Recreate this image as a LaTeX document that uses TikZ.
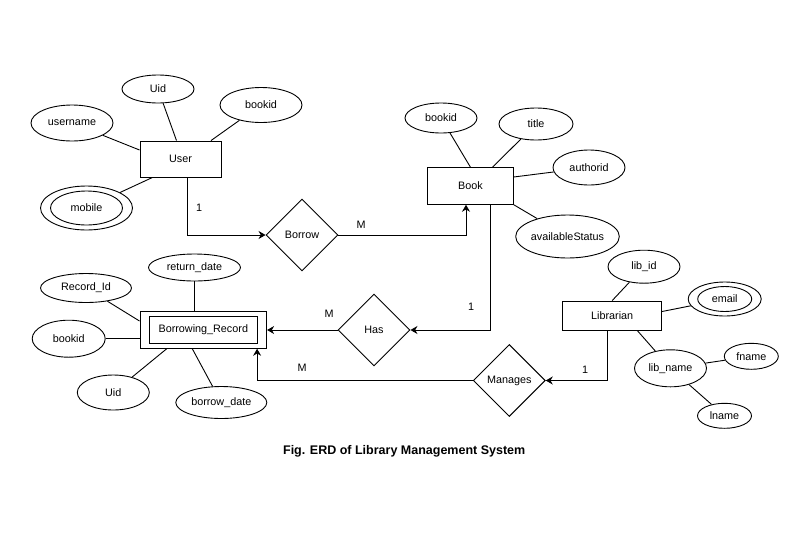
\documentclass[tikz,border=0pt]{standalone}
\usepackage{fontspec}
\setmainfont{Liberation Sans}
\usetikzlibrary{shapes.geometric,arrows.meta}
\begin{document}
\begin{tikzpicture}[x=1pt,y=-1pt,
  font=\fontsize{10.8}{13}\selectfont,
  line width=0.9pt,
  attr/.style={ellipse,draw,inner sep=0pt},
  ent/.style={rectangle,draw,inner sep=0pt},
  rel/.style={diamond,draw,inner sep=0pt,minimum width=72pt,minimum height=72pt},
  arr/.style={-{Stealth[length=7pt,width=8pt]}},
  card/.style={inner sep=0pt}]
\fill[white] (0,0) rectangle (810,544);
\useasboundingbox (0,0) rectangle (810,544);

% ---------- User ----------
\node[ent,minimum width=81pt,minimum height=36pt] (User) at (180.5,159) {User};
\node[attr,minimum width=72pt,minimum height=28pt] (uidA) at (158,89) {Uid};
\node[attr,minimum width=82pt,minimum height=35pt] (bookidA) at (261,105) {bookid};
\node[attr,minimum width=82pt,minimum height=36pt] (uname) at (72,123) {username};
\node[attr,minimum width=92pt,minimum height=44pt] (mobileO) at (86.5,208) {};
\node[attr,minimum width=72pt,minimum height=34pt] (mobile) at (86.5,208) {mobile};

\draw (uname) -- ([yshift=9pt]User.west);
\draw (uidA) -- ([xshift=-4pt]User.north);
\draw (bookidA) -- ([xshift=30.5pt]User.north);
\draw (mobileO) -- ([xshift=-28pt]User.south);

% ---------- Borrow ----------
\node[rel] (Borrow) at (302,235) {Borrow};

% ---------- Book ----------
\node[ent,minimum width=85.6pt,minimum height=36.6pt] (Book) at (470.5,186) {Book};
\node[attr,minimum width=72pt,minimum height=30pt] (bookidB) at (441,118) {bookid};
\node[attr,minimum width=74pt,minimum height=32pt] (title) at (536,124) {title};
\node[attr,minimum width=72pt,minimum height=35pt] (author) at (589,167.5) {authorid};
\node[attr,minimum width=99pt,minimum height=43pt] (avail) at (567.5,236.5) {availableStatus};

\draw (bookidB) -- (Book.north);
\draw (title) -- ([xshift=22pt]Book.north);
\draw (author) -- ([yshift=9pt]Book.east);
\draw (avail) -- (Book.south east);

% ---------- Has ----------
\node[rel] (Has) at (374,330) {Has};

% ---------- Borrowing_Record ----------
\node[ent,minimum width=126.7pt,minimum height=36.6pt] (BR) at (203.3,330) {};
\node[ent,minimum width=108.7pt,minimum height=26.6pt] (BRin) at (203.3,330) {Borrowing\_Record};
\node[attr,minimum width=91pt,minimum height=29pt] (rec) at (86,288) {Record\_Id};
\node[attr,minimum width=92pt,minimum height=27pt] (ret) at (194.5,267.5) {return\_date};
\node[attr,minimum width=73pt,minimum height=37pt] (bookidC) at (68.7,338.7) {bookid};
\node[attr,minimum width=72pt,minimum height=35pt] (uidB) at (113.3,392.5) {Uid};
\node[attr,minimum width=91pt,minimum height=32pt] (bdate) at (221.3,402.5) {borrow\_date};

\draw (rec) -- ([yshift=9pt]BR.west);
\draw (ret) -- (ret |- BR.north);
\draw (bookidC) -- (bookidC -| BR.west);
\draw (uidB) -- ([xshift=-36.6pt]BR.south);
\draw (bdate) -- ([xshift=-11pt]BR.south);

% ---------- Librarian ----------
\node[ent,minimum width=99pt,minimum height=29pt] (Lib) at (612.2,315.5) {Librarian};
\node[attr,minimum width=72pt,minimum height=33pt] (libid) at (644,266.7) {lib\_id};
\node[attr,minimum width=73pt,minimum height=34pt] (emailO) at (724.7,299) {};
\node[attr,minimum width=54pt,minimum height=25pt] (email) at (724.7,299) {email};
\node[attr,minimum width=72pt,minimum height=37pt] (libname) at (670.5,368.3) {lib\_name};
\node[attr,minimum width=54pt,minimum height=26pt] (fname) at (751.3,356.3) {fname};
\node[attr,minimum width=54pt,minimum height=25pt] (lname) at (724.5,415.8) {lname};

\draw (libid) -- (Lib.north);
\draw (emailO) -- ([yshift=4pt]Lib.east);
\draw (libname) -- ([xshift=25pt]Lib.south);
\draw (libname) -- (fname);
\draw (libname) -- (lname);

% ---------- Manages ----------
\node[rel] (Man) at (509.3,380.5) {Manages};

% ---------- Relationship connectors ----------
\draw[arr] ([xshift=7pt]User.south) |- (Borrow.west);
\draw[arr] (Borrow.east) -| ([xshift=-4.5pt]Book.south);
\draw[arr] ([xshift=20pt]Book.south) |- (Has.east);
\draw[arr] (Has.west) -- (BR.east);
\draw[arr] (Man.west) -| ([xshift=-10pt]BR.south east);
\draw[arr] ([xshift=-5pt]Lib.south) |- (Man.east);

% ---------- Cardinalities ----------
\node[card] (c1) at (199,208) {1};
\node[card] (c2) at (361,225) {M};
\node[card] (c3) at (471,307) {1};
\node[card] (c4) at (329,314) {M};
\node[card] (c5) at (302,368) {M};
\node[card] (c6) at (585,370) {1};

% ---------- Caption ----------
\node[font=\fontsize{12.5}{15}\selectfont\bfseries] (cap) at (404.2,451.7) {Fig. ERD of Library Management System};
\end{tikzpicture}
\end{document}
